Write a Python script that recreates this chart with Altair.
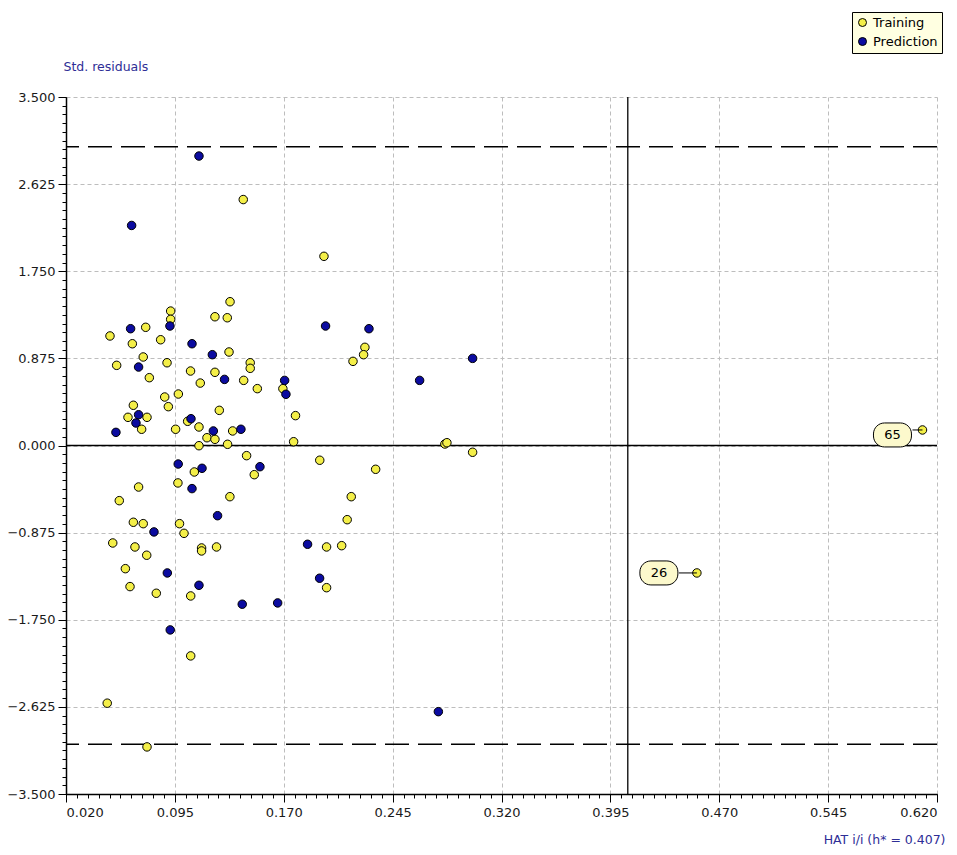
import altair as alt
import pandas as pd

# ---------------- data ----------------
train_x = [0.1421, 0.1330, 0.0921, 0.0921, 0.1226, 0.1311, 0.0749, 0.0503, 0.0657, 0.0852,
           0.1323, 0.0732, 0.0896, 0.1469, 0.1469, 0.0549, 0.1058, 0.1226, 0.0774, 0.1424,
           0.1125, 0.1518, 0.0974, 0.0880, 0.0664, 0.0905, 0.1256, 0.0627, 0.0758, 0.1038,
           0.0721, 0.0955, 0.1116, 0.1348, 0.1171, 0.1226, 0.1116, 0.1313,
           0.1444, 0.1497, 0.1084, 0.0971, 0.0700, 0.0567, 0.1329, 0.0664, 0.0732, 0.0982,
           0.1013, 0.0522, 0.0675, 0.1134, 0.1134, 0.1237, 0.0756, 0.0609, 0.0641, 0.0822,
           0.1059, 0.1059, 0.0484, 0.0758,
           0.1977, 0.2259, 0.2250, 0.2177, 0.1694, 0.1781, 0.1768, 0.2810, 0.2824, 0.3001,
           0.1948, 0.2333, 0.2165, 0.2137, 0.1995, 0.2099, 0.1995]
train_y = [2.470, 1.444, 1.350, 1.267, 1.293, 1.283, 1.187, 1.100, 1.022, 1.062,
           0.939, 0.889, 0.831, 0.831, 0.775, 0.805, 0.748, 0.735, 0.681, 0.654,
           0.627, 0.571, 0.517, 0.487, 0.404, 0.390, 0.353, 0.283, 0.283, 0.243,
           0.163, 0.163, 0.186, 0.146, 0.078, 0.062, -0.002, 0.012,
           -0.102, -0.293, -0.266, -0.376, -0.417, -0.554, -0.514, -0.771, -0.785, -0.785,
           -0.882, -0.979, -1.019, -1.029, -1.059, -1.019, -1.102, -1.237, -1.417, -1.484,
           -1.511, -2.113, -2.588, -3.027,
           1.900, 0.986, 0.912, 0.845, 0.571, 0.300, 0.038, 0.015, 0.028, -0.068,
           -0.148, -0.239, -0.514, -0.745, -1.019, -1.006, -1.428]

pred_x = [0.1116, 0.0652, 0.0916, 0.0645, 0.1068, 0.1208, 0.0700, 0.1292, 0.0700, 0.0682,
          0.1061, 0.0544, 0.1215, 0.1405,
          0.1536, 0.0973, 0.1137, 0.1068, 0.1244, 0.0806, 0.0898, 0.1116, 0.1414, 0.0918,
          0.1988, 0.2287, 0.3001, 0.2636, 0.1706, 0.1715,
          0.1864, 0.1947, 0.1658, 0.2765]
pred_y = [2.907, 2.210, 1.200, 1.173, 1.022, 0.912, 0.788, 0.664, 0.309, 0.226,
          0.269, 0.132, 0.146, 0.163,
          -0.213, -0.186, -0.229, -0.433, -0.705, -0.868, -1.280, -1.404, -1.594, -1.852,
          1.200, 1.173, 0.875, 0.654, 0.654, 0.514,
          -0.992, -1.333, -1.581, -2.673]

label_ids = ["65", "26"]
label_x = [0.610, 0.4546]
label_y = [0.156, -1.280]

x_ticks = [0.020, 0.095, 0.170, 0.245, 0.320, 0.395, 0.470, 0.545, 0.620]
y_ticks = [-3.5, -2.625, -1.75, -0.875, 0.0, 0.875, 1.75, 2.625, 3.5]
h_star = 0.407
limit_lines = [-3.0, 3.0]

# minor axis tick positions (10 per major interval)
x_minor = [round(0.02 + i * 0.0075, 4) for i in range(81)]
y_minor = [round(-3.5 + i * 0.0875, 4) for i in range(81)]

YEL = "#f4ef48"
BLU = "#0b0ba0"
FONT = "DejaVu Sans"
TITLE_COL = "#2e2e96"

df = pd.DataFrame({
    "hat": train_x + label_x + pred_x,
    "res": train_y + label_y + pred_y,
    "set": ["Training"] * (len(train_x) + len(label_x)) + ["Prediction"] * len(pred_x),
})

xs = alt.Scale(domain=[0.02, 0.62], nice=False, zero=False)
ys = alt.Scale(domain=[-3.5, 3.5], nice=False, zero=False)

x_axis = alt.Axis(orient="bottom", values=x_ticks, format=".3f", grid=True,
                  tickSize=8, labelPadding=4, title="HAT i/i (h* = 0.407)",
                  titleX=879, titleY=45, titleAlign="right", titleBaseline="middle",
                  titleColor=TITLE_COL, titleFontSize=12.5, titleFontWeight="normal",
                  titleFont=FONT)
y_axis = alt.Axis(orient="left", values=y_ticks, format=".3f", grid=True,
                  tickSize=8, labelPadding=3, title="Std. residuals",
                  titleAngle=0, titleX=-3, titleY=-31, titleAlign="left",
                  titleBaseline="middle", titleColor=TITLE_COL, titleFontSize=12.5,
                  titleFontWeight="normal", titleFont=FONT)

minor = alt.Chart(df).mark_point(opacity=0).encode(
    x=alt.X("hat:Q", scale=xs,
            axis=alt.Axis(orient="bottom", values=x_minor, labels=False, grid=False,
                          domain=False, tickSize=4, tickColor="black"),
            title=None),
    y=alt.Y("res:Q", scale=ys,
            axis=alt.Axis(orient="left", values=y_minor, labels=False, grid=False,
                          domain=False, tickSize=4, tickColor="black"),
            title=None),
)

limits = alt.Chart(pd.DataFrame({"lim": limit_lines})).mark_rule(
    color="black", strokeWidth=1.5, strokeDash=[24, 9]
).encode(y=alt.Y("lim:Q", scale=ys, axis=None))

zero_line = alt.Chart(pd.DataFrame({"z": [0.0]})).mark_rule(
    color="black", strokeWidth=1.3
).encode(y=alt.Y("z:Q", scale=ys, axis=None))

h_line = alt.Chart(pd.DataFrame({"h": [h_star]})).mark_rule(
    color="black", strokeWidth=1.3
).encode(x=alt.X("h:Q", scale=xs, axis=None))

layers = [minor, limits, zero_line, h_line]

# labels for outlying points
label_offsets = {"65": (-30, 5, 10), "26": (-38, 0, 18)}
for lid, lx, ly in zip(label_ids, label_x, label_y):
    dx, dy, conn_len = label_offsets[lid]
    ldf = pd.DataFrame({"hat": [lx], "res": [ly], "id": [lid]})
    base = alt.Chart(ldf).encode(
        x=alt.X("hat:Q", scale=xs, axis=None),
        y=alt.Y("res:Q", scale=ys, axis=None),
    )
    conn = base.mark_rule(color="black", strokeWidth=1, x2Offset=-conn_len).encode(
        x2=alt.X2("hat"))
    box = base.mark_rect(width=38, height=24, cornerRadius=11, fill="#fcf9cc",
                         stroke="black", strokeWidth=1, xOffset=dx, yOffset=dy)
    txt = base.mark_text(fontSize=13, font=FONT, color="black", xOffset=dx,
                         yOffset=dy, align="center", baseline="middle").encode(
        text="id:N")
    layers += [conn, box, txt]

pts = alt.Chart(df).mark_circle(size=72, stroke="black", strokeWidth=1, opacity=1).encode(
    x=alt.X("hat:Q", scale=xs, axis=x_axis),
    y=alt.Y("res:Q", scale=ys, axis=y_axis),
    color=alt.Color("set:N",
                    scale=alt.Scale(domain=["Training", "Prediction"], range=[YEL, BLU]),
                    legend=alt.Legend(orient="none", legendX=786, legendY=-85, title=None,
                                      fillColor="#ffffe1", strokeColor="black",
                                      padding=4, rowPadding=5, labelFontSize=13,
                                      labelFont=FONT, labelColor="black",
                                      symbolType="circle", symbolSize=64,
                                      symbolStrokeColor="black", symbolStrokeWidth=1,
                                      labelOffset=4, cornerRadius=0)),
    order=alt.Order("set:N", sort="descending"),
)

layers.insert(4, pts)

chart = alt.layer(*layers).resolve_axis(x="independent", y="independent").properties(
    width=871, height=697,
    autosize=alt.AutoSizeParams(type="none"),
    padding={"left": 58, "top": 89, "right": 12, "bottom": 54},
    background="white",
).configure_view(stroke=None).configure_axis(
    labelFont=FONT, labelFontSize=13, labelColor="#1a1a1a",
    gridColor="#bdbdbd", gridDash=[4, 3], gridWidth=1,
    domainColor="black", domainWidth=1.5, tickColor="black", tickWidth=1,
)

chart.save("out.html", embed_options={"renderer": "svg", "actions": False})
